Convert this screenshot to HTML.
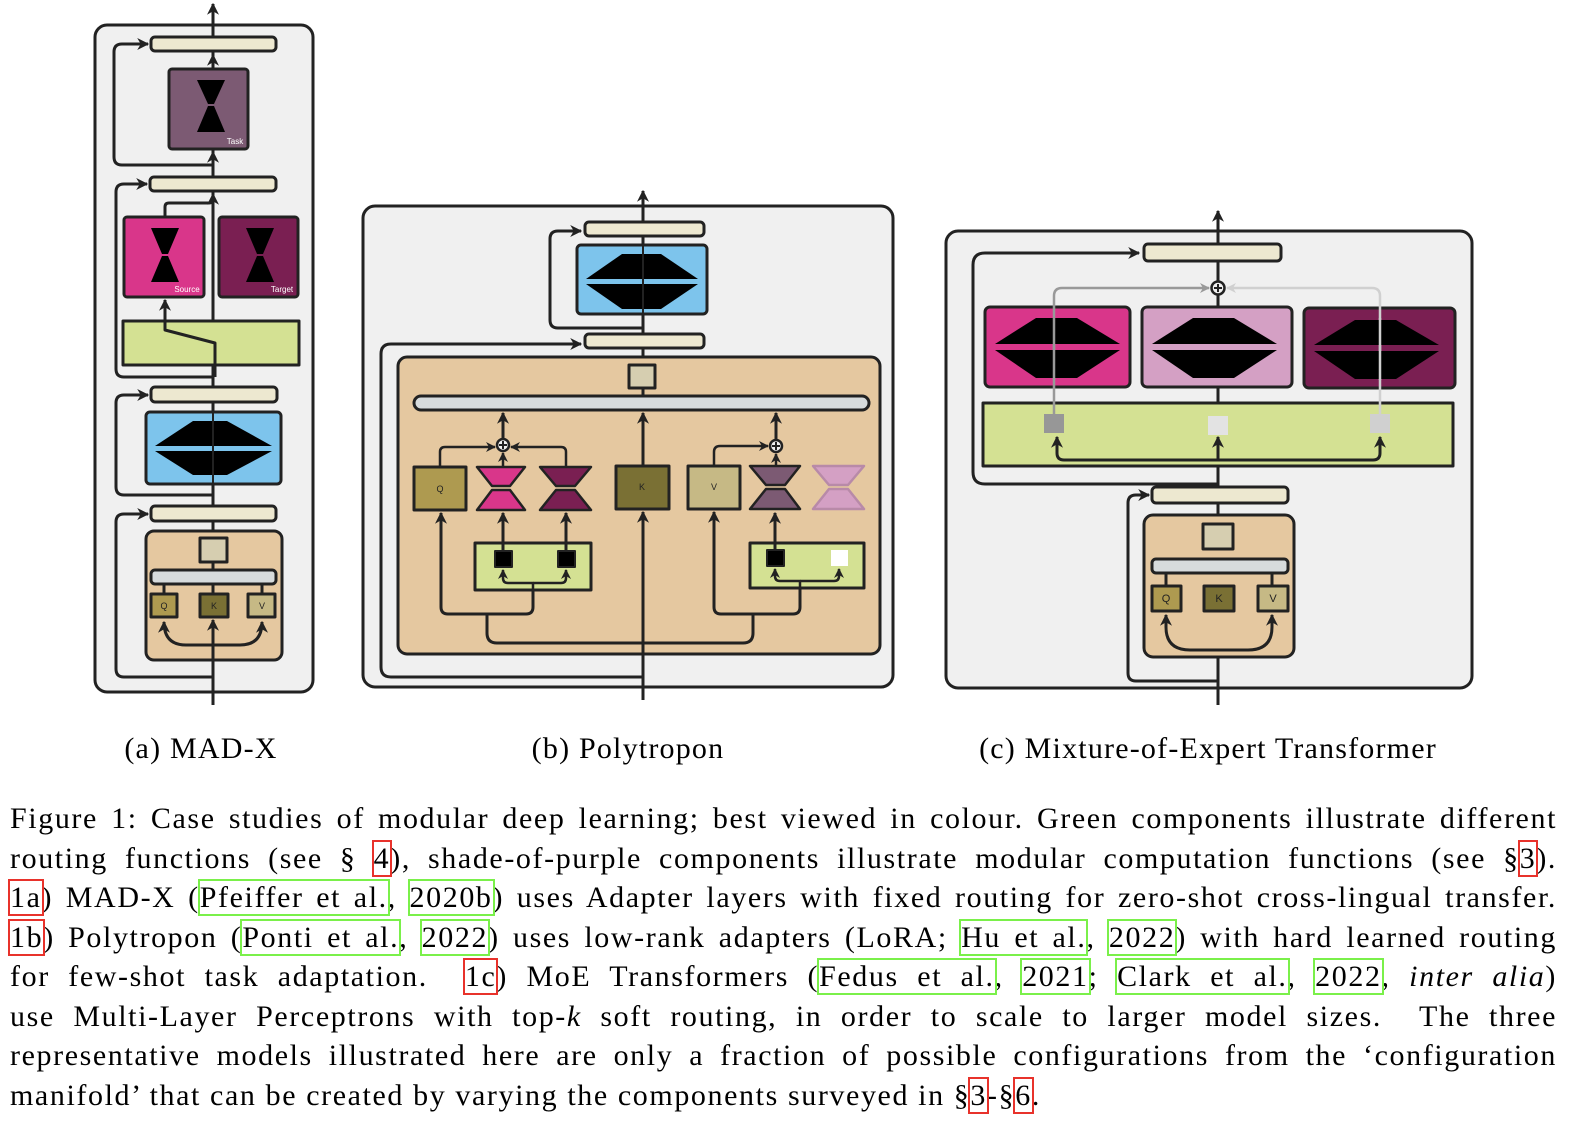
<!DOCTYPE html>
<html><head><meta charset="utf-8"><style>
body{margin:0;width:1580px;height:1130px;background:#fff;overflow:hidden;position:relative;font-family:"Liberation Serif",serif}
svg{position:absolute;left:0;top:0}
.cap{position:absolute;top:732px;font-size:30px;letter-spacing:1.2px;white-space:nowrap;transform:translateX(-50%)}
.txt{position:absolute;left:10px;width:1547px;top:799px;font-size:30px;letter-spacing:1.6px;line-height:39.5px}
.txt div{white-space:nowrap;text-align:justify;text-align-last:justify}
.txt div.last{text-align-last:left}
.r{outline:2px solid #e8322b;outline-offset:0}
.g{outline:2px solid #7af04a;outline-offset:0}
</style></head><body>
<svg width="1580" height="720" viewBox="0 0 1580 720">
<defs>
<marker id="ar" viewBox="0 0 10 10" refX="9" refY="5" markerWidth="4" markerHeight="4" orient="auto-start-reverse"><path d="M0,0 L10,5 L0,10 L3,5z" fill="#222"/></marker>
<marker id="ag" viewBox="0 0 10 10" refX="9" refY="5" markerWidth="4" markerHeight="4" orient="auto"><path d="M0,0 L10,5 L0,10 L3,5z" fill="#999"/></marker>
<marker id="al" viewBox="0 0 10 10" refX="9" refY="5" markerWidth="4" markerHeight="4" orient="auto"><path d="M0,0 L10,5 L0,10 L3,5z" fill="#d0d0d0"/></marker>
</defs>
<g stroke="#222" stroke-width="3" fill="none" stroke-linejoin="round">
<rect x="95" y="25" width="218" height="667" rx="12" fill="#f0f0f0"/>
<line x1="213" y1="705" x2="213" y2="4" marker-end="url(#ar)"/>
<path d="M213,165 H122 Q114,165 114,157 V52 Q114,44 122,44 H148" marker-end="url(#ar)"/>
<path d="M213,377 H124 Q116,377 116,369 V192 Q116,184 124,184 H147" marker-end="url(#ar)"/>
<path d="M213,495 H124 Q116,495 116,487 V403 Q116,395 124,395 H148" marker-end="url(#ar)"/>
<path d="M213,677 H124 Q116,677 116,669 V522 Q116,514 124,514 H148" marker-end="url(#ar)"/>
<rect x="151" y="37" width="125" height="14" rx="4" fill="#ede8d0"/>
<line x1="213" y1="69" x2="213" y2="55" marker-end="url(#ar)"/>
<rect x="169" y="69" width="79" height="80" rx="3" fill="#7c5a73"/>
<line x1="213" y1="177" x2="213" y2="152" marker-end="url(#ar)"/>
<rect x="150" y="177" width="126" height="14" rx="4" fill="#ede8d0"/>
<rect x="124" y="217" width="80" height="80" rx="3" fill="#d9368a"/>
<rect x="219" y="217" width="79" height="80" rx="3" fill="#7a1f52"/>
<path d="M165,217 V207 Q165,203 169,203 H209 Q213,203 213,199 V194" marker-end="url(#ar)"/>
<rect x="123" y="321" width="176" height="44" fill="#d4e193"/>
<path d="M215,377 V343 L165,330 V300" marker-end="url(#ar)"/>
<rect x="151" y="387" width="126" height="15" rx="4" fill="#ede8d0"/>
<rect x="146" y="412" width="135" height="72" rx="4" fill="#7dc4ec"/>
<rect x="151" y="506" width="125" height="15" rx="4" fill="#ede8d0"/>
<rect x="146" y="531" width="136" height="129" rx="8" fill="#e5c8a0"/>
<line x1="213" y1="531" x2="213" y2="521"/>
<rect x="200" y="538" width="27" height="24" fill="#d6ceb0"/>
<line x1="213" y1="562" x2="213" y2="570"/>
<rect x="151" y="570" width="125" height="14" rx="4" fill="#d7dbdc"/>
<line x1="164" y1="584" x2="164" y2="594"/><line x1="262" y1="584" x2="262" y2="594"/><line x1="213" y1="584" x2="213" y2="594"/>
<rect x="151" y="594" width="26" height="23" fill="#ae9a50"/>
<rect x="200" y="594" width="28" height="23" fill="#7a7034"/>
<rect x="248" y="594" width="27" height="23" fill="#c6b985"/>
<path d="M213,645 H186 Q164,645 164,622" marker-end="url(#ar)"/>
<path d="M213,645 H240 Q262,645 262,622" marker-end="url(#ar)"/>
<line x1="213" y1="660" x2="213" y2="620" marker-end="url(#ar)"/>

<rect x="363" y="206" width="530" height="481" rx="12" fill="#f0f0f0"/>
<line x1="643" y1="700" x2="643" y2="191" marker-end="url(#ar)"/>
<path d="M643,328 H558 Q550,328 550,320 V239 Q550,231 558,231 H581" marker-end="url(#ar)"/>
<path d="M643,677 H391 Q381,677 381,667 V354 Q381,344 391,344 H581" marker-end="url(#ar)"/>
<rect x="585" y="222" width="119" height="14" rx="4" fill="#ede8d0"/>
<rect x="577" y="245" width="130" height="69" rx="4" fill="#7dc4ec"/>
<rect x="585" y="334" width="119" height="14" rx="4" fill="#ede8d0"/>
<rect x="398" y="357" width="482" height="297" rx="9" fill="#e5c8a0"/>
<line x1="643" y1="357" x2="643" y2="348"/>
<rect x="629" y="365" width="26" height="23" fill="#d6ceb0"/>
<line x1="643" y1="388" x2="643" y2="396"/>
<rect x="414" y="396" width="455" height="14" rx="7" fill="#d7dbdc"/>
<line x1="643" y1="654" x2="643" y2="512" marker-end="url(#ar)"/>
<line x1="643" y1="466" x2="643" y2="413" marker-end="url(#ar)"/>
<rect x="414" y="467" width="52" height="43" fill="#ae9a50"/>
<rect x="616" y="466" width="53" height="43" fill="#7a7034"/>
<rect x="688" y="466" width="52" height="43" fill="#c6b985"/>
<line x1="503" y1="439" x2="503" y2="413" marker-end="url(#ar)"/>
<path d="M440,467 V452 Q440,447 445,447 H495" stroke-width="2.5" marker-end="url(#ar)"/>
<path d="M566,467 V452 Q566,447 561,447 H511" stroke-width="2.5" marker-end="url(#ar)"/>
<line x1="503" y1="467" x2="503" y2="453" stroke-width="2.5" marker-end="url(#ar)"/>
<rect x="475" y="543" width="116" height="47" fill="#d4e193"/>
<line x1="503" y1="551" x2="503" y2="513" marker-end="url(#ar)"/>
<line x1="566" y1="551" x2="566" y2="513" marker-end="url(#ar)"/>
<rect x="495" y="551" width="17" height="16" fill="#000" stroke-width="2"/>
<rect x="558" y="551" width="17" height="16" fill="#000" stroke-width="2"/>
<path d="M533,590 V583 H508 Q503,583 503,578 V570" stroke-width="2.5" marker-end="url(#ar)"/>
<path d="M533,583 H561 Q566,583 566,578 V570" stroke-width="2.5" marker-end="url(#ar)"/>
<path d="M533,590 V607 Q533,614 526,614 H448 Q441,614 441,607 V513" marker-end="url(#ar)"/>
<line x1="776" y1="440" x2="776" y2="413" marker-end="url(#ar)"/>
<path d="M714,466 V452 Q714,446 720,446 H768" stroke-width="2.5" marker-end="url(#ar)"/>
<line x1="776" y1="466" x2="776" y2="454" stroke-width="2.5" marker-end="url(#ar)"/>
<rect x="750" y="543" width="114" height="45" fill="#d4e193"/>
<line x1="775" y1="550" x2="775" y2="513" marker-end="url(#ar)"/>
<rect x="767" y="550" width="17" height="16" fill="#000" stroke-width="2"/>
<rect x="831" y="550" width="17" height="16" fill="#fff" stroke="none"/>
<path d="M800,588 V581 H780 Q775,581 775,576 V569" stroke-width="2.5" marker-end="url(#ar)"/>
<path d="M800,581 H834 Q839,581 839,576 V569" stroke-width="2.5" marker-end="url(#ar)"/>
<path d="M800,588 V607 Q800,614 793,614 H721 Q714,614 714,607 V512" marker-end="url(#ar)"/>
<path d="M487,614 V633 Q487,643 497,643 H743 Q753,643 753,633 V614"/>
<g stroke-width="2.5">
<polygon points="477,467 525,467 510,486 492,486" fill="#d9368a"/><polygon points="492,490 510,490 525,510 477,510" fill="#d9368a"/>
<polygon points="540,467 591,467 575,486 556,486" fill="#7a1f52"/><polygon points="556,490 575,490 591,510 540,510" fill="#7a1f52"/>
<polygon points="750,466 800,466 785,485 766,485" fill="#7c5a73"/><polygon points="766,489 785,489 800,509 750,509" fill="#7c5a73"/>
<polygon points="813,466 864,466 848,485 829,485" fill="#d4a0c4" stroke="#b88aa8"/><polygon points="829,489 848,489 864,509 813,509" fill="#d4a0c4" stroke="#b88aa8"/>
</g>
<circle cx="503" cy="445" r="6" fill="#f0f0f0" stroke-width="2.5"/><path d="M499,445 H507 M503,441 V449" stroke-width="2"/>
<circle cx="776" cy="446" r="6" fill="#f0f0f0" stroke-width="2.5"/><path d="M772,446 H780 M776,442 V450" stroke-width="2"/>

<rect x="946" y="231" width="526" height="457" rx="12" fill="#f0f0f0"/>
<line x1="1218" y1="705" x2="1218" y2="211" marker-end="url(#ar)"/>
<path d="M1218,484 H985 Q973,484 973,472 V265 Q973,253 985,253 H1139" marker-end="url(#ar)"/>
<path d="M1218,681 H1136 Q1128,681 1128,673 V503 Q1128,495 1136,495 H1149" marker-end="url(#ar)"/>
<rect x="1144" y="244" width="137" height="17" rx="4" fill="#ede8d0"/>
<rect x="1152" y="487" width="136" height="16" rx="4" fill="#ede8d0"/>
<rect x="985" y="307" width="145" height="80" rx="5" fill="#d9368a"/>
<rect x="1142" y="307" width="150" height="80" rx="5" fill="#d4a0c4"/>
<rect x="1304" y="308" width="151" height="80" rx="5" fill="#7a1f52"/>
<rect x="983" y="403" width="470" height="63" fill="#d4e193"/>
<rect x="1144" y="515" width="150" height="142" rx="9" fill="#e5c8a0"/>
<rect x="1203" y="524" width="30" height="25" fill="#d6ceb0"/>
<rect x="1152" y="559" width="136" height="14" rx="4" fill="#d7dbdc"/>
<line x1="1166" y1="573" x2="1166" y2="586"/><line x1="1272" y1="573" x2="1272" y2="586"/>
<rect x="1152" y="586" width="29" height="25" fill="#ae9a50"/>
<rect x="1204" y="586" width="30" height="25" fill="#7a7034"/>
<rect x="1258" y="586" width="30" height="25" fill="#c6b985"/>
<path d="M1218,650 H1190 Q1166,650 1166,627 V615" marker-end="url(#ar)"/>
<path d="M1218,650 H1248 Q1272,650 1272,627 V615" marker-end="url(#ar)"/>
<line x1="1218" y1="460" x2="1218" y2="437" marker-end="url(#ar)"/>
<path d="M1218,460 H1064 Q1057,460 1057,453 V437" marker-end="url(#ar)"/>
<path d="M1218,460 H1373 Q1380,460 1380,453 V437" marker-end="url(#ar)"/>
<rect x="1044" y="414" width="20" height="19" fill="#979797" stroke="none"/>
<rect x="1208" y="416" width="20" height="19" fill="#e3e3e3" stroke="none"/>
<rect x="1370" y="414" width="20" height="19" fill="#d0d0d0" stroke="none"/>
<path d="M1054,414 V296 Q1054,288 1062,288 H1209" stroke="#999" stroke-width="2.5" marker-end="url(#ag)"/>
<path d="M1380,414 V296 Q1380,288 1372,288 H1227" stroke="#d0d0d0" stroke-width="2.5" marker-end="url(#al)"/>
<circle cx="1218" cy="288" r="6.5" fill="#f0f0f0" stroke-width="2.5"/><path d="M1214,288 H1222 M1218,284 V292" stroke-width="2"/>
</g>
<g fill="#000">
<polygon points="155,446 193,421 227,421 272,446"/><polygon points="155,451 193,475 227,475 272,451"/>
<polygon points="586,279 622,254 661,254 698,279"/><polygon points="586,284 622,309 661,309 698,284"/>
<polygon points="995,344 1036,318 1077,318 1120,344"/><polygon points="995,350 1036,378 1077,378 1120,350"/>
<polygon points="1152,344 1193,318 1234,318 1277,344"/><polygon points="1152,350 1193,378 1234,378 1277,350"/>
<polygon points="1314,345 1355,320 1396,320 1439,345"/><polygon points="1314,351 1355,379 1396,379 1439,351"/>
<polygon points="197,80 225,80 214,104 208,104"/><polygon points="208,106 214,106 225,132 197,132"/>
<polygon points="151,228 179,228 168,254 162,254"/><polygon points="162,256 168,256 179,282 151,282"/>
<polygon points="246,228 274,228 263,254 257,254"/><polygon points="257,256 263,256 274,282 246,282"/>
</g>
<line x1="213" y1="412" x2="213" y2="484" stroke="#222" stroke-width="2"/>
<line x1="643" y1="245" x2="643" y2="314" stroke="#222" stroke-width="2"/>
<line x1="1054" y1="318" x2="1054" y2="380" stroke="#999" stroke-width="2.5"/>
<line x1="1380" y1="318" x2="1380" y2="380" stroke="#d0d0d0" stroke-width="2.5"/>
<g font-family="Liberation Sans, sans-serif" fill="#222" font-size="9" text-anchor="middle">
<text x="164" y="609">Q</text><text x="214" y="609">K</text><text x="262" y="609">V</text>
<text x="440" y="492">Q</text><text x="642" y="490">K</text><text x="714" y="490">V</text>
<text x="1166" y="602" font-size="11">Q</text><text x="1219" y="602" font-size="11">K</text><text x="1273" y="602" font-size="11">V</text>
<text x="235" y="144" fill="#fff" font-size="8">Task</text>
<text x="187" y="292" fill="#fff" font-size="8">Source</text>
<text x="282" y="292" fill="#fff" font-size="8">Target</text>
</g>
</svg>
<div class="cap" style="left:201px">(a) MAD-X</div>
<div class="cap" style="left:628px">(b) Polytropon</div>
<div class="cap" style="left:1208px">(c) Mixture-of-Expert Transformer</div>
<div class="txt">
<div>Figure 1: Case studies of modular deep learning; best viewed in colour. Green components illustrate different</div>
<div>routing functions (see § <span class="r">4</span>), shade-of-purple components illustrate modular computation functions (see §<span class="r">3</span>).</div>
<div><span class="r">1a</span>) MAD-X (<span class="g">Pfeiffer et al.</span>, <span class="g">2020b</span>) uses Adapter layers with fixed routing for zero-shot cross-lingual transfer.</div>
<div><span class="r">1b</span>) Polytropon (<span class="g">Ponti et al.</span>, <span class="g">2022</span>) uses low-rank adapters (LoRA; <span class="g">Hu et al.</span>, <span class="g">2022</span>) with hard learned routing</div>
<div>for few-shot task adaptation. &nbsp;<span class="r">1c</span>) MoE Transformers (<span class="g">Fedus et al.</span>, <span class="g">2021</span>; <span class="g">Clark et al.</span>, <span class="g">2022</span>, <i>inter alia</i>)</div>
<div>use Multi-Layer Perceptrons with top-<i>k</i> soft routing, in order to scale to larger model sizes. &nbsp;The three</div>
<div>representative models illustrated here are only a fraction of possible configurations from the ‘configuration</div>
<div class="last">manifold’ that can be created by varying the components surveyed in §<span class="r">3</span>-§<span class="r">6</span>.</div>
</div>
</body></html>
